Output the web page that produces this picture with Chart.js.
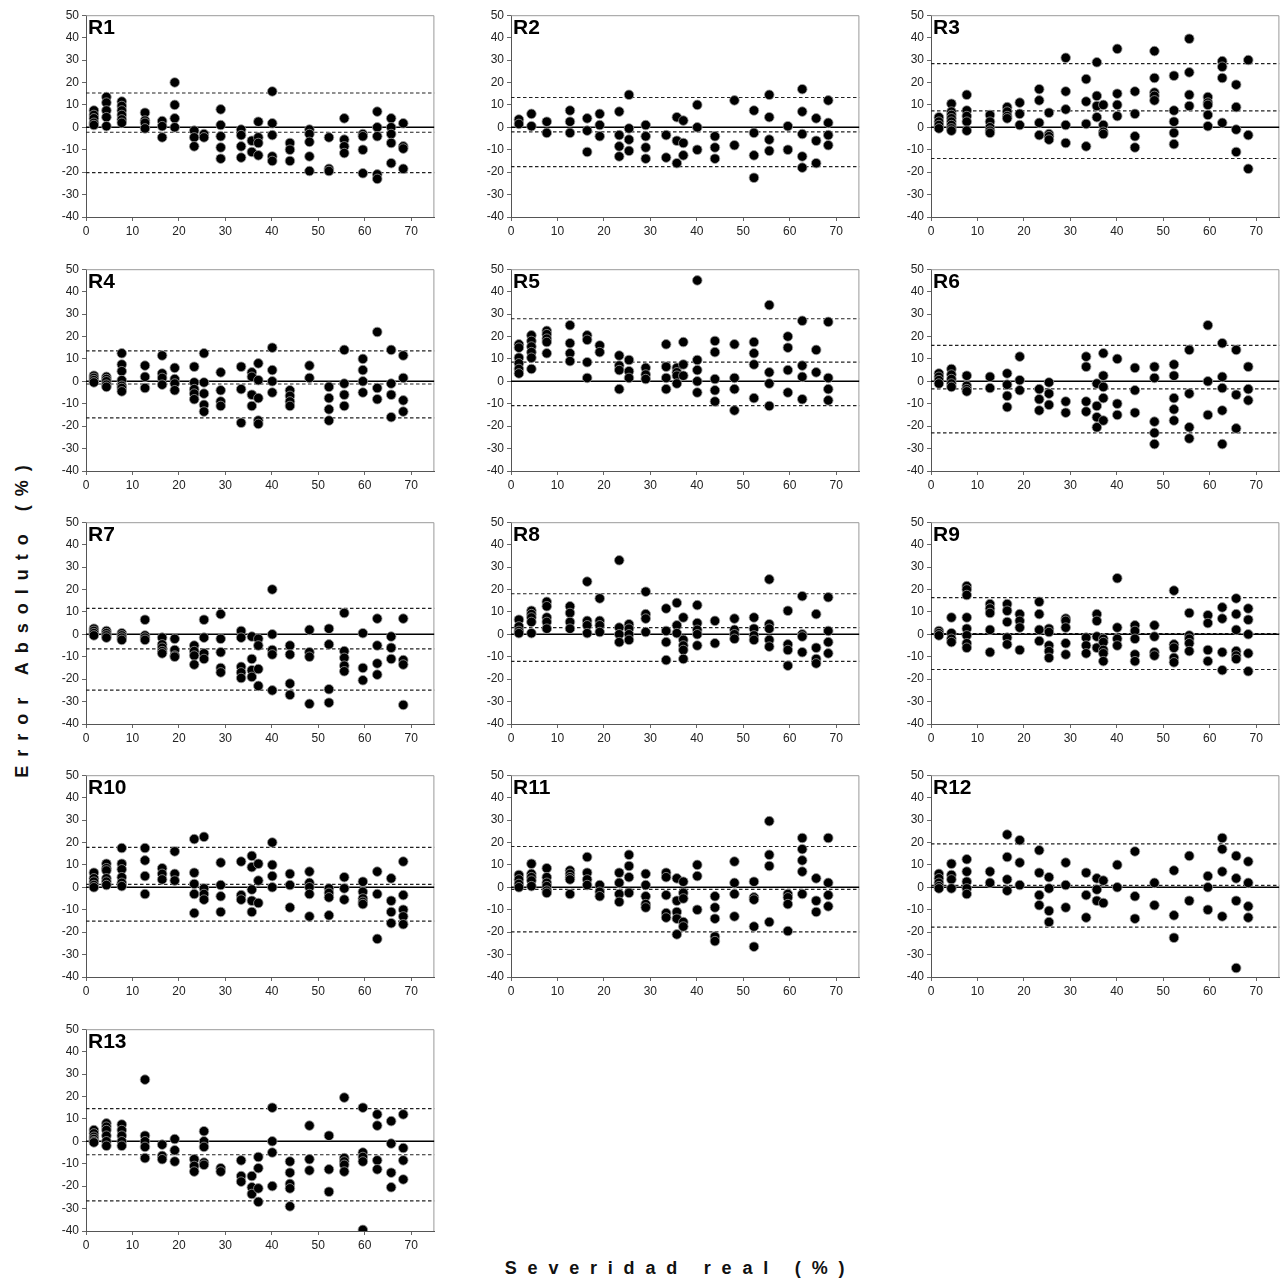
<!DOCTYPE html>
<html><head><meta charset="utf-8">
<script src="https://cdn.jsdelivr.net/npm/chart.js@4.4.0/dist/chart.umd.min.js"></script>
<style>
body{margin:0;background:#fff;width:1284px;height:1283px;position:relative;overflow:hidden;font-family:"Liberation Sans",Arial,sans-serif}
canvas{position:absolute}
#yt{position:absolute;left:22px;top:617px;transform:translate(-50%,-50%) rotate(-90deg);font-weight:bold;font-size:18px;letter-spacing:9px;white-space:nowrap;color:#111}
#xt{position:absolute;left:680px;top:1268px;transform:translate(-50%,-50%);font-weight:bold;font-size:18px;letter-spacing:10.8px;white-space:nowrap;color:#111}
</style>
</head><body>
<div id="yt">Error Absoluto (%)</div>
<div id="xt">Severidad real (%)</div>
<script>
// Real severity levels (x categories)
const severities = [1.7, 4.4, 7.7, 12.7, 16.4, 19.1, 23.3, 25.4, 29.0, 33.4, 35.7, 37.1, 40.1, 43.9, 48.1, 52.3, 55.6, 59.6, 62.7, 65.7, 68.3];
const panelNames = ["R1","R2","R3","R4","R5","R6","R7","R8","R9","R10","R11","R12","R13"];
const bias     = [-2.2, -2.0, 7.3, -1.2, 8.6, -3.4, -6.5, 3.0, 0.3, 1.3, -0.9, 0.9, -6.0];
const upperLoA = [15.3, 13.3, 28.4, 13.6, 27.9, 16.0, 11.6, 18.1, 16.4, 17.8, 18.2, 19.4, 14.6];
const lowerLoA = [-20.2, -17.5, -13.9, -16.3, -10.8, -23.0, -24.9, -12.1, -15.7, -15.1, -19.9, -17.8, -26.6];
const xTicks = [0,10,20,30,40,50,60,70];
const yTicks = [-40,-30,-20,-10,0,10,20,30,40,50];

// Absolute errors per severity level (one inner list per severity)
const r1 = [[7.5,5.5,4,2,1],[13.5,11,7.5,4.5,0.5],[11.5,9.5,7.5,5.5,3.5,2],[6.5,3,2,-0.5],[2.8,0.5,-4.5],[20,10,4,0],[-1.5,-4.5,-8.5],[-3,-4.5],[8,1,-4,-9,-14],[-1,-3.5,-8.5,-13.5],[-6,-11],[2.5,-4.5,-7,-12.5],[16,1.8,-3.5,-13,-15],[-7,-10,-15],[-1,-3,-6.5,-13,-19.5],[-4.5,-18.5,-19.5],[4,-5.5,-8.5,-11.5],[-3,-4,-10,-20.5],[7,0,-4,-21,-23],[4,0,-3,-7,-16],[1.8,-8.5,-9.5,-18.5]];
const r2 = [[3.5,1.5],[6,0.5],[2.5,-2.5],[7.5,2.5,-2.5],[4,-1.5,-11],[6,1,-4],[7,-3.5,-8.5,-13],[14.5,-0.5,-5.5,-10.5],[1,-4,-9,-14],[-3.5,-13.5],[4.5,-6,-16],[3,-7,-12.5],[10,0,-10],[-4,-9,-14],[12,-8],[7.5,-2.5,-12.5,-22.5],[14.5,4.5,-5.5,-10.5],[0.5,-10],[17,7,-3,-13,-18],[4,-6,-16],[12,2,-3.5,-8]];
const r3 = [[4.5,2.5,1,-0.5],[10.5,7,5.5,4,2.5,1,-0.5,-1.5],[14.5,7.5,5,2.5,-1.5],[5.5,2.5,0,-1.5,-2.5],[9,7,5,4],[11,6,1],[17,12,2,-3.5],[6.5,-3,-4,-5.5],[31,16,8,1,-7],[21.5,11.5,1.5,-8.5],[29,14,9.5,4.5],[10,1,-2,-3],[35,15,10,5],[16,6,-4,-9],[34,22,15.5,14,12],[23,7.5,2.5,-2.5,-7.5],[39.5,24.5,14.5,9.5],[13.5,11,10,5.5,0.5],[29.5,27,22,2],[19,9,-1,-11],[30,-3.5,-18.5]];
const r4 = [[2.5,1.5,0.5,-0.5],[2,1,0,-1.5,-2.5],[12.5,7.5,4.5,0.5,-2,-3,-4.5],[7,2,-3],[11.5,3.5,1.5,-1.5],[6,1,-1,-4],[6.5,-0.5,-3.5,-5.5,-8],[12.5,-0.5,-5.5,-10.5,-13.5],[4,-4,-9,-11],[6.5,-3.5,-18.5],[4,2,-6,-11],[8,0.5,-7.5,-17.5,-19],[15,5,0,-5],[-4,-6.5,-9,-11],[7,1.5],[-2.5,-7.5,-12.5,-17.5],[14,-1,-6,-11],[10,5,0,-5],[22,-3,-8],[14,-1,-6,-16],[11.5,1.5,-8.5,-13.5]];
const r5 = [[16.5,15,10.5,8,5.5,3.5],[20.5,18,15.5,13,10.5,5.5],[22.5,21,19,17.5,12.5],[25,17,12.5,9],[20.5,18.5,8.5,1.5],[16,13],[11.5,7,5,-3.5],[9.5,4.5,1.5],[6,3,1],[16.5,6.5,1.5,-3.5],[6,4,2.5,-1],[17.5,7.5,2.5],[45,9.5,5,0,-5],[18,13,1,-4,-9],[16.5,1.5,-3.5,-13],[17.5,12.5,7.5,-7.5],[34,4,-1,-11],[20,15,5,-5],[27,7,2,-8],[14,4],[26.5,1.5,-3.5,-8.5]];
const r6 = [[3.5,2,0.5,-1],[5.5,3,1,-1,-2.5],[2.5,-2,-3.5,-4.5],[2,-3],[3.5,-1.5,-6.5,-11.5],[11,0.5,-4],[-3.5,-8,-13],[-0.5,-5.5,-10.5],[-9,-14],[11,6.5,-9,-13.5],[-1,-11,-16,-20.5],[12.5,2.5,-2.5,-7.5,-17.5],[10,-10,-15],[6,-4,-14],[6.5,1.5,-18,-23,-28],[7.5,2.5,-7.5,-12.5,-17.5],[14,-5.5,-20.5,-25.5],[25,0,-15],[17,2,-3,-13,-28],[14,-6,-21],[6.5,-3.5,-8.5]];
const r7 = [[2.5,1.5,0.5,-0.5],[1.5,0.5,-0.5,-1.5],[0.5,-0.5,-1.5,-2.5],[6.5,-0.5,-1.5,-2.5],[-1.5,-4.5,-6,-7.5,-8.5],[-2,-7,-9.5,-10],[-5,-7.5,-9.5,-13.5],[6.5,-1.5,-8.5,-11],[9,-2,-8,-15,-17],[1.5,-1.5,-14.5,-17,-19.5],[-1,-11,-16,-19],[-2,-5,-15.5,-23],[20,0,-7,-9,-25],[-5,-9,-22,-27],[2,-8,-10,-31],[2.5,-4.5,-24.5,-30.5],[9.5,-7.5,-10.5,-14,-16.5],[0.5,-15,-20.5],[7,-5,-13,-18],[-1,-6,-11],[7,-11.5,-13.5,-31.5]];
const r8 = [[6.5,3.5,1.5,0.5],[10.5,9,7.5,5.5,0.5],[14.5,12.5,7.5,5.5,2.5],[12.5,9.5,5.5,2.5],[23.5,6,4,0.5],[16,6,4,1],[33,3,0,-3.5],[4.5,2.5,0,-2.5],[19,9,7,1],[11.5,1.5,-3.5,-11.5],[14,4,0.5],[7.5,-2.5,-5,-7,-11],[13,5,2,0,-5],[6,-4],[7,2,0,-2],[7.5,2.5,-0.5,-2.5],[24.5,4.5,2.5,-2.5,-5.5],[10.5,-4.5,-7,-14],[17,0,-1,-8],[9,-6,-11,-13],[16.5,1.5,-3.5,-8.5]];
const r9 = [[1.5,0.5,-0.5],[7.5,0.5,-2,-3.5],[21.5,20,17.5,7.5,2.5,-0.5,-4,-6],[13.5,11.5,9.5,2,-8],[13.5,10.5,5.5,-1.5,-4.5],[9,6,3,-7],[14.5,9,2,-3],[2.5,1,-5,-7.5,-10.5],[7,6,3,-4,-9],[-1.5,-5,-8.5],[9,6,-1,-6],[-2,-3.5,-7,-8.5,-12],[25,3,-2,-5],[4,1.5,-2,-9,-12],[4,-1,-8,-9.5],[19.5,-4.5,-6,-10.5,-12.5],[9.5,-0.5,-2,-4,-7.5],[8.5,5,-7,-12],[12,7,-8,-16],[16,9,2,-7.5,-9.5,-11],[11.5,6.5,0,-8.5,-16.5]];
const r10 = [[6.5,4,2.5,1,0],[10.5,8.5,7.5,4,2.5,1],[17.5,10.5,8,4.5,2,0.5],[17.5,12,5,-3],[8.5,6,3.5],[16,6,3],[21.5,6.5,1.5,-3,-11.5],[22.5,-0.5,-3,-5.5],[11,1,-4,-11],[11.5,-3.5,-5.5],[14,9,-1,-6,-11],[10.5,3,-7],[20,10,5,0],[6,1,-9],[7,2,0,-3,-13],[-0.5,-2.5,-4.5,-12.5],[4.5,-0.5,-5.5],[2.5,-2,-5,-6.5,-7.5],[7,-3,-23],[4,-6,-11,-16],[11.5,-3.5,-10,-13,-16.5]];
const r11 = [[5.5,3.5,1.5,0],[10.5,6,4.5,3,0.5],[8.5,4.5,2,0.5,-1.5,-2.5],[7.5,6,4.5,3.5,-3],[13.5,6.5,3.5,1],[1,-2,-4],[6.5,2,-3,-6.5],[14.5,9.5,4.5,-2.5],[6,1,-4,-7.5,-9],[6.5,4.5,-3.5,-11.5,-13.5],[4,-6,-11,-14,-21],[2.5,-2.5,-5,-15.5,-17.5],[10,5,-10],[-4,-9,-14,-22,-24],[11.5,2,-3,-13],[2.5,-4.5,-5.5,-17.5,-26.5],[29.5,14.5,9.5,-15.5],[-3,-4.5,-7.5,-19.5],[22,17,12,7,-3],[4,-6,-11],[22,2,-3.5,-8.5]];
const r12 = [[6,4,2,0.5,-0.5],[10.5,5.5,3.5,-0.5],[12.5,7,2.5,-0.5,-3],[7,2],[23.5,13.5,3.5,-1.5],[21,11,1],[16.5,6.5,-3.5,-8],[4.5,-0.5,-10.5,-15.5],[11,1,-9],[6.5,-3.5,-13.5],[4,-1,-6],[3,-7],[10,0],[16,-4,-14],[2,-8],[7.5,-12.5,-22.5],[14,-6],[5,0,-10],[22,17,7,-13],[14,4,-6,-36],[11.5,2,-8.5,-13.5]];
const r13 = [[5,3.5,2,1,0,-0.5],[8,6.5,5,2.5,0,-2],[7.5,5,2.5,0,-2],[27.5,2.5,0,-2.5,-7.5],[-1.5,-6.5,-8],[1,-4,-9],[-8,-11,-13.5],[4.5,0,-2.5,-9.5,-10.5],[-12,-13.5],[-8.5,-15.5,-18],[-15.5,-20.5,-23.5],[-7,-12,-21,-27],[15,0,-5,-20],[-9,-14,-19,-21,-29],[7,-8,-13],[2.5,-12.5,-22.5],[19.5,-7.5,-9,-10.5,-13.5],[15,-5,-7,-9,-39.5],[12,7,-8.5,-12.5],[9,-1,-14,-20.5],[12,-3,-8.5,-17]];
const panelErrors = [r1,r2,r3,r4,r5,r6,r7,r8,r9,r10,r11,r12,r13];

// Layout
const COL_LEFT = [86, 511, 931];
const ROW_TOP = [15, 269, 522, 775, 1029];
const PW = 351, PH = 202, LW = 44, TP = 10, BH = 24, RP = 3;

const boxPlugin = {
  id: 'boxFrame',
  beforeDatasetsDraw(chart) {
    const a = chart.chartArea, ctx = chart.ctx;
    ctx.save();
    ctx.strokeStyle = '#9a9a9a';
    ctx.lineWidth = 1;
    ctx.beginPath();
    ctx.moveTo(a.left, a.top + 0.5);
    ctx.lineTo(a.right - 0.5, a.top + 0.5);
    ctx.lineTo(a.right - 0.5, a.bottom);
    ctx.stroke();
    ctx.restore();
  },
  afterDraw(chart, args, opts) {
    const a = chart.chartArea, ctx = chart.ctx;
    ctx.save();
    ctx.fillStyle = '#000';
    ctx.font = 'bold 21px "Liberation Sans", Arial, sans-serif';
    ctx.textBaseline = 'top';
    ctx.fillText(opts.label, a.left + 2, a.top + 3);
    ctx.restore();
  }
};

panelErrors.forEach((errs, i) => {
  const col = i % 3, row = Math.floor(i / 3);
  const c = document.createElement('canvas');
  c.width = LW + PW + RP; c.height = TP + PH + BH;
  c.style.left = (COL_LEFT[col] - LW) + 'px';
  c.style.top = (ROW_TOP[row] - TP) + 'px';
  document.body.appendChild(c);
  const pts = [];
  errs.forEach((ys, k) => ys.forEach(y => pts.push({x: severities[k], y: y})));
  const hline = (v) => [{x: 0, y: v}, {x: 75, y: v}];
  const dashStyle = {type: 'line', borderColor: '#222', borderWidth: 1.2, borderDash: [3.5, 2.5], pointRadius: 0, fill: false, order: 2};
  new Chart(c, {
    type: 'scatter',
    data: {
      datasets: [
        {data: pts, backgroundColor: '#000', borderColor: '#9a9a9a', borderWidth: 0.8, pointRadius: 4.8, order: 0},
        {type: 'line', data: hline(0), borderColor: '#000', borderWidth: 1.4, pointRadius: 0, fill: false, order: 1},
        Object.assign({data: hline(bias[i])}, dashStyle),
        Object.assign({data: hline(upperLoA[i])}, dashStyle),
        Object.assign({data: hline(lowerLoA[i])}, dashStyle)
      ]
    },
    options: {
      responsive: false, animation: false, events: [],
      layout: {padding: {top: TP, right: RP, left: 0, bottom: 0}},
      plugins: {legend: {display: false}, tooltip: {enabled: false}, boxFrame: {label: panelNames[i]}},
      scales: {
        x: {
          type: 'linear', min: 0, max: 75,
          afterBuildTicks: s => { s.ticks = xTicks.map(v => ({value: v})); },
          afterFit: s => { s.height = BH; },
          ticks: {font: {size: 12, family: '"Liberation Sans", Arial, sans-serif'}, color: '#222', padding: 3, maxRotation: 0},
          grid: {display: true, drawOnChartArea: false, drawTicks: true, tickLength: 4, color: '#666'},
          border: {display: true, color: '#555', width: 1}
        },
        y: {
          type: 'linear', min: -40, max: 50,
          afterBuildTicks: s => { s.ticks = yTicks.map(v => ({value: v})); },
          afterFit: s => { s.width = LW; },
          ticks: {font: {size: 12, family: '"Liberation Sans", Arial, sans-serif'}, color: '#222', padding: 3},
          grid: {display: true, drawOnChartArea: false, drawTicks: true, tickLength: 4, color: '#666'},
          border: {display: true, color: '#555', width: 1}
        }
      }
    },
    plugins: [boxPlugin]
  });
});
</script>
</body></html>
